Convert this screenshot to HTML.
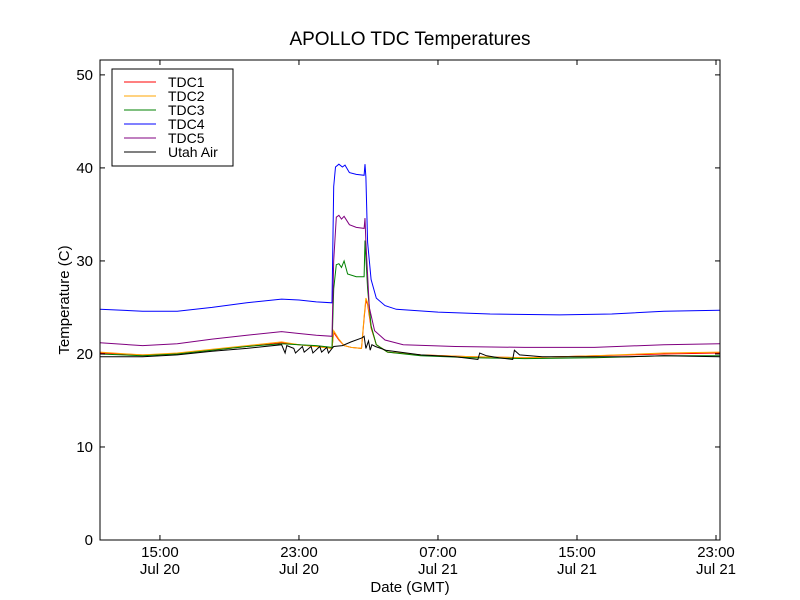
<!DOCTYPE html>
<html><head><meta charset="utf-8"><style>
body{margin:0;background:#fff;}
svg{display:block;font-family:"Liberation Sans","DejaVu Sans",sans-serif;}
</style></head><body>
<svg id="chart" width="800" height="600">
<rect width="800" height="600" fill="#fff"/>
<text x="410" y="45" text-anchor="middle" font-size="19">APOLLO TDC Temperatures</text>
<g id="plot"></g>
<text x="410" y="592" text-anchor="middle" font-size="15">Date (GMT)</text>
<text transform="translate(69,300) rotate(-90)" text-anchor="middle" font-size="15">Temperature (C)</text>
</svg>
<script>
const xTickHours=[15,23,31,39,47];
const xTickTop=["15:00","23:00","07:00","15:00","23:00"];
const xTickBottom=["Jul 20","Jul 20","Jul 21","Jul 21","Jul 21"];
const yTicks=[0,10,20,30,40,50];
const seriesNames=["TDC1","TDC2","TDC3","TDC4","TDC5","Utah Air"];
const seriesColors=["#ff0000","#ffa500","#008000","#0000ff","#800080","#000000"];
const tdc2T=[11.55,14,16,18,20,22,23,24,24.9,25.0,25.3,25.6,26,26.6,26.75,26.85,26.95,27.15,27.45,28.1,30,33,36,40,44,47.2];
const tdc2V=[20.2,19.9,20.1,20.5,20.9,21.3,21.0,20.8,20.6,22.5,21.6,20.9,20.7,20.6,24,26.0,25.5,23,21,20.2,19.9,19.7,19.6,19.8,20.1,20.2];
const tdc1T=tdc2T;
const tdc1V=[20.1,19.9,20.0,20.4,20.8,21.2,21.0,20.8,20.6,22.3,21.5,20.9,20.7,20.6,23.8,25.8,25.3,22.8,21,20.2,19.9,19.7,19.6,19.8,20.0,20.1];
const tdc3T=[11.55,14,16,18,20,22,23,24,24.9,25.0,25.15,25.3,25.45,25.6,25.8,26.3,26.75,26.8,26.95,27.15,27.45,28.1,30,33,36,40,44,47.2];
const tdc3V=[20.0,19.8,20.0,20.4,20.8,21.1,21.0,20.9,20.7,27,29.6,29.7,29.3,30.0,28.6,28.3,28.3,32.2,27,23,21,20.2,19.8,19.6,19.5,19.6,19.8,19.8];
const tdc4T=[11.55,14,16,18,20,22,23,24,24.9,25.0,25.1,25.3,25.5,25.65,25.9,26.3,26.75,26.8,26.85,26.95,27.15,27.45,27.95,28.6,31,34,38,41,44,47.2];
const tdc4V=[24.8,24.6,24.6,25.0,25.5,25.9,25.8,25.6,25.5,38,40.1,40.4,40.1,40.3,39.5,39.3,39.2,40.4,39,32,28,26,25.2,24.8,24.5,24.3,24.2,24.3,24.6,24.7];
const tdc5T=[11.55,14,16,18,20,22,23,24,24.9,25.0,25.15,25.3,25.45,25.6,25.9,26.3,26.75,26.8,26.85,27.05,27.35,27.95,29,32,36,40,44,47.2];
const tdc5V=[21.2,20.9,21.1,21.6,22.0,22.4,22.2,22.0,21.9,30,34.7,34.9,34.5,34.8,33.9,33.6,33.5,34.6,32,25,22.5,21.5,21.0,20.8,20.7,20.7,21.0,21.1];
const airT=[11.55,14,16,18,20,22,22.2,22.3,22.7,22.8,23.2,23.3,23.7,23.8,24.2,24.3,24.6,24.7,24.9,25,25.5,26,26.6,26.75,26.85,27.0,27.1,27.2,27.4,28,30,32,33.3,33.4,33.8,34.5,35.3,35.4,35.7,37,39,42,44,47.2];
const airV=[19.7,19.7,19.9,20.3,20.6,21.0,20.1,20.9,20.6,20.1,20.8,20.2,20.8,20.1,20.8,20.2,20.7,20.1,20.6,20.8,20.9,21.3,21.7,21.9,20.6,21.4,20.4,21.0,20.8,20.4,19.9,19.7,19.4,20.1,19.8,19.6,19.4,20.4,19.9,19.7,19.7,19.7,19.8,19.7];
const seriesT=[tdc1T,tdc2T,tdc3T,tdc4T,tdc5T,airT];
const seriesV=[tdc1V,tdc2V,tdc3V,tdc4V,tdc5V,airV];

const L=100,R=720,T=60,B=540,X0=11.55,X1=47.23,Y0=0,Y1=51.6;
const xs=t=>L+(t-X0)/(X1-X0)*(R-L);
const ys=v=>B-(v-Y0)/(Y1-Y0)*(B-T);
const NS="http://www.w3.org/2000/svg";
const plot=document.getElementById('plot');
function mk(tag,attrs,parent){const e=document.createElementNS(NS,tag);for(const k in attrs)e.setAttribute(k,attrs[k]);(parent||plot).appendChild(e);return e;}
seriesT.forEach((tt,i)=>{
  const d=tt.map((t,j)=>(j?'L':'M')+xs(t).toFixed(1)+','+ys(seriesV[i][j]).toFixed(1)).join('');
  const p=mk('path',{d:d,fill:'none',stroke:seriesColors[i],'stroke-width':1});
  
  
});
const frame=mk('rect',{x:L,y:T,width:R-L,height:B-T,fill:'none',stroke:'#000','stroke-width':1});


yTicks.forEach(v=>{
  const y=ys(v);
  mk('line',{x1:L,x2:L+5,y1:y,y2:y,stroke:'#000'});
  mk('line',{x1:R,x2:R-5,y1:y,y2:y,stroke:'#000'});
  const t=mk('text',{x:L-7,y:y+5,'text-anchor':'end','font-size':15});
  t.textContent=v;
  
  
});
xTickHours.forEach((h,i)=>{
  const x=xs(h);
  mk('line',{x1:x,x2:x,y1:B,y2:B-5,stroke:'#000'});
  mk('line',{x1:x,x2:x,y1:T,y2:T+5,stroke:'#000'});
  const t=mk('text',{x:x,y:B+17,'text-anchor':'middle','font-size':15});
  t.textContent=xTickTop[i];
  
  
  const t2=mk('text',{x:x,y:B+34,'text-anchor':'middle','font-size':15});
  t2.textContent=xTickBottom[i];
  
  
});
const lg=mk('g',{});


mk('rect',{x:112,y:69,width:121,height:97,fill:'#fff',stroke:'#000','stroke-width':1},lg);
seriesNames.forEach((n,i)=>{
  const y=82+i*14;
  mk('line',{x1:124,x2:156,y1:y,y2:y,stroke:seriesColors[i],'stroke-width':1},lg);
  const t=mk('text',{x:168,y:y+5,'font-size':14},lg);
  t.textContent=n;
  
  
});
</script>
</body></html>
